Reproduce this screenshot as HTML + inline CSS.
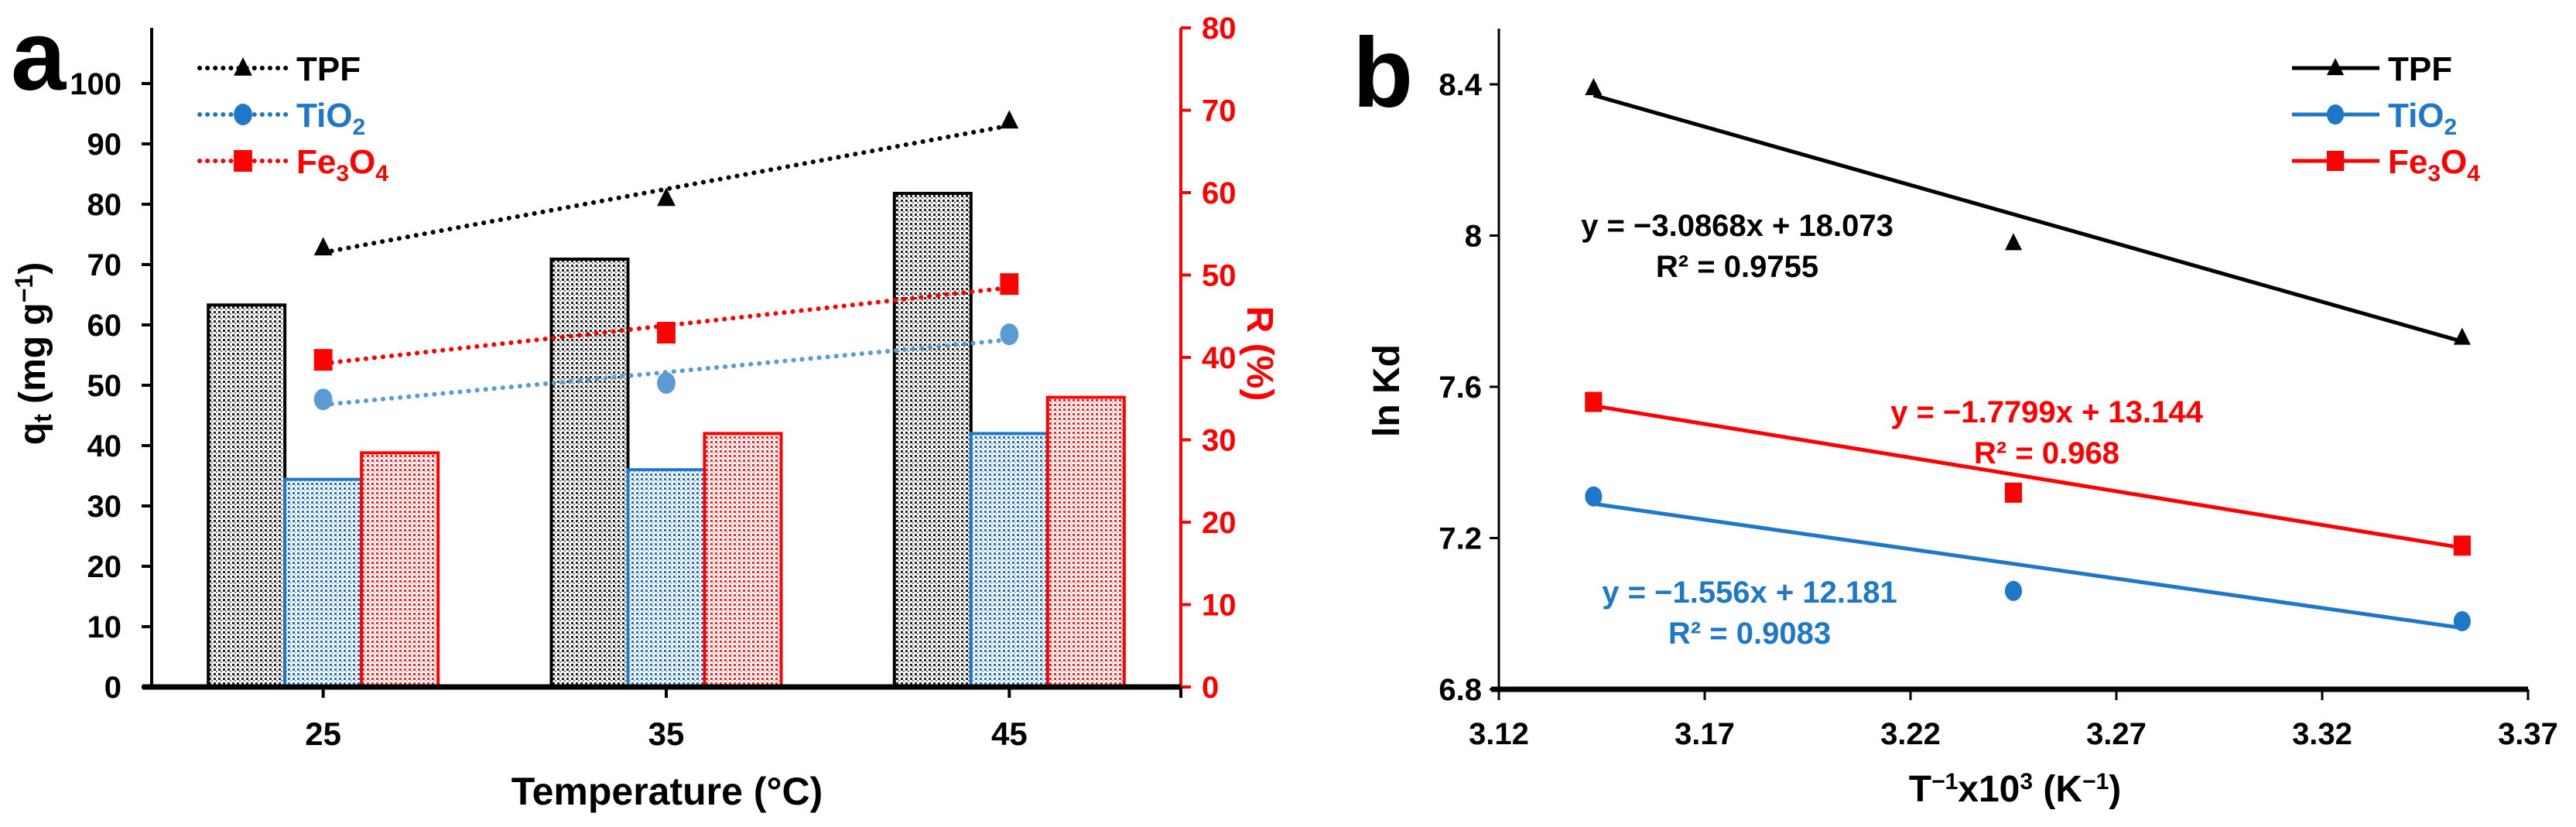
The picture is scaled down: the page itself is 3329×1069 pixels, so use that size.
<!DOCTYPE html>
<html><head><meta charset="utf-8"><style>
html,body{margin:0;padding:0;background:#fff;}
svg{display:block;font-family:"Liberation Sans",Arial,sans-serif;font-weight:bold;}
</style></head><body>
<svg id="chart" width="3329" height="1069" viewBox="0 0 3329 1069" xmlns="http://www.w3.org/2000/svg">
<defs>
<pattern id="pk" width="6" height="6" patternUnits="userSpaceOnUse"><rect width="6" height="6" fill="#fff"/><rect x="0" y="0" width="3" height="3" fill="#222"/><rect x="3" y="3" width="2" height="2" fill="#777"/></pattern>
<pattern id="pb" width="6" height="6" patternUnits="userSpaceOnUse"><rect width="6" height="6" fill="#fff"/><rect x="0" y="0" width="3" height="3" fill="#1f6fc4"/><rect x="3" y="3" width="2" height="2" fill="#8cb8e6"/></pattern>
<pattern id="pr" width="6" height="6" patternUnits="userSpaceOnUse"><rect width="6" height="6" fill="#fff"/><rect x="0" y="0" width="3" height="3" fill="#f22"/><rect x="3" y="3" width="2" height="2" fill="#f9a0a0"/></pattern>
</defs>
<g id="pa"></g>
<g id="pbp"></g>
</svg>
<script>
// ---------- Panel a data ----------
const temps = ["25","35","45"];
const barTPF = [63.3, 70.9, 81.8];
const barTiO2 = [34.4, 36.0, 42.0];
const barFe = [38.8, 42.0, 48.0];
const rTPF = [53.3, 59.3, 68.7];
const rTiO2 = [34.9, 36.9, 42.8];
const rFe = [39.7, 43.0, 48.9];
const leftTicks = [0,10,20,30,40,50,60,70,80,90,100];
const rightTicks = [0,10,20,30,40,50,60,70,80];
// ---------- Panel b data ----------
const invT = [3.143, 3.245, 3.354];
const lnTPF = [8.39, 7.98, 7.73];
const lnTiO2 = [7.31, 7.06, 6.98];
const lnFe = [7.56, 7.32, 7.18];
const slopes = [-3.0868, -1.556, -1.7799];
const intercepts = [18.073, 12.181, 13.144];
const bxTicks = [3.12, 3.17, 3.22, 3.27, 3.32, 3.37];
const byTicks = [6.8, 7.2, 7.6, 8.0, 8.4];

const NS="http://www.w3.org/2000/svg";
function mk(parent,tag,attrs,text){const e=document.createElementNS(NS,tag);for(const k in attrs)e.setAttribute(k,attrs[k]);if(text!==undefined)e.textContent=text;parent.appendChild(e);return e;}
const BLACK="#000",BLUE="#1f77c8",BLUEL="#5b9bd5",RED="#ff0000";

// ---- Panel a ----
const pa=document.getElementById('pa');
const ax0=196, ax1=1526, ay0=888, ayTop=36;
const yL=v=>ay0-v*7.8;
const yR=v=>ay0-v*(852/80);
const catW=(ax1-ax0)/temps.length;
const xC=i=>ax0+catW*(i+0.5);
const bw=99;
const barSets=[[barTPF,"url(#pk)",BLACK,"tpf"],[barTiO2,"url(#pb)",BLUE,"tio2"],[barFe,"url(#pr)",RED,"fe3o4"]];
barSets.forEach((s,k)=>{s[0].forEach((v,i)=>{const x=xC(i)-1.5*bw+k*bw;
 const r=mk(pa,'rect',{x:x,y:yL(v),width:bw,height:ay0-yL(v),fill:s[1],stroke:s[2],'stroke-width':4});
 
 });});
// axes
let e=mk(pa,'line',{x1:ax0,y1:ayTop,x2:ax0,y2:ay0,stroke:'#000','stroke-width':4});

e=mk(pa,'line',{x1:ax1,y1:ayTop,x2:ax1,y2:ay0,stroke:RED,'stroke-width':4});

e=mk(pa,'line',{x1:ax0-12,y1:ay0,x2:ax1,y2:ay0,stroke:'#000','stroke-width':7});

leftTicks.forEach(v=>{mk(pa,'line',{x1:ax0-13,y1:yL(v),x2:ax0,y2:yL(v),stroke:'#000','stroke-width':4});
 const t=mk(pa,'text',{x:157,y:yL(v)+14,'text-anchor':'end','font-size':40},String(v));
 });
rightTicks.forEach(v=>{mk(pa,'line',{x1:ax1,y1:yR(v),x2:ax1+13,y2:yR(v),stroke:RED,'stroke-width':4});
 const t=mk(pa,'text',{x:1553,y:yR(v)+14,'font-size':40,fill:RED},String(v));
 });
temps.forEach((c,i)=>{mk(pa,'line',{x1:xC(i),y1:ay0,x2:xC(i),y2:ay0+14,stroke:'#000','stroke-width':4});
 const t=mk(pa,'text',{x:xC(i),y:963,'text-anchor':'middle','font-size':42},c);
 });
mk(pa,'line',{x1:ax1,y1:ay0,x2:ax1,y2:ay0+14,stroke:'#000','stroke-width':4});
// trend lines + markers
function fit(xs,ys){const n=xs.length;let sx=0,sy=0,sxx=0,sxy=0;for(let i=0;i<n;i++){sx+=xs[i];sy+=ys[i];sxx+=xs[i]*xs[i];sxy+=xs[i]*ys[i];}const m=(n*sxy-sx*sy)/(n*sxx-sx*sx);return [m,(sy-m*sx)/n];}
function marker(g,type,x,y,col,size){let el;
 if(type==='tri')el=mk(g,'polygon',{points:`${x},${y-size} ${x-size*0.85},${y+size*0.7} ${x+size*0.85},${y+size*0.7}`,fill:col});
 else if(type==='circ')el=mk(g,'ellipse',{cx:x,cy:y,rx:size*0.85,ry:size,fill:col});
 else el=mk(g,'rect',{x:x-size*0.85,y:y-size,width:size*1.7,height:size*2,fill:col});
 return el;}
const rSets=[[rTPF,BLACK,'tri','tpf'],[rTiO2,BLUEL,'circ','tio2'],[rFe,RED,'sq','fe3o4']];
rSets.forEach(s=>{const xs=temps.map((c,i)=>i);const [m,b]=fit(xs,s[0]);
 const l=mk(pa,'line',{x1:xC(0),y1:yR(b),x2:xC(2),y2:yR(m*2+b),stroke:s[1],'stroke-width':6,'stroke-dasharray':'0.1 11','stroke-linecap':'round'});
 
 s[0].forEach((v,i)=>{const mm=marker(pa,s[2],xC(i),yR(v),s[1],14);
  });});
// legend a
const legA=[['TPF',BLACK,'tri'],['TiO',BLUE,'circ'],['Fe',RED,'sq']];
legA.forEach((L,i)=>{const y=88+i*60;
 mk(pa,'line',{x1:258,y1:y,x2:372,y2:y,stroke:L[1],'stroke-width':6,'stroke-dasharray':'0.1 10','stroke-linecap':'round'});
 marker(pa,L[2],314,y,L[1],14);
 const t=mk(pa,'text',{x:383,y:y+16,'font-size':44,fill:L[1]});
 
 if(i===0)t.textContent='TPF';
 else if(i===1){t.innerHTML='TiO<tspan font-size="30" dy="10">2</tspan>';}
 else{t.innerHTML='Fe<tspan font-size="30" dy="10">3</tspan><tspan dy="-10">O</tspan><tspan font-size="30" dy="10">4</tspan>';}});
let t=mk(pa,'text',{x:14,y:116,'font-size':128},'a');
t=mk(pa,'text',{x:0,y:0,'font-size':48,'text-anchor':'middle',transform:'translate(58,457) rotate(-90)'});
t.innerHTML='q<tspan font-size="32" dy="8">t</tspan><tspan dy="-8"> (mg g</tspan><tspan font-size="32" dy="-16">−1</tspan><tspan dy="16">)</tspan>';

t=mk(pa,'text',{x:0,y:0,'font-size':48,'text-anchor':'middle',fill:RED,transform:'translate(1612,457) rotate(90)'},'R (%)');

t=mk(pa,'text',{x:862,y:1040,'font-size':50,'text-anchor':'middle'},'Temperature (°C)');


// ---- Panel b ----
const pb=document.getElementById('pbp');
const bx0=1937,bx1=3267,by0=891,byTop=37;
const X=v=>bx0+(v-3.12)/0.25*(bx1-bx0);
const Y=v=>by0-(v-6.8)/0.4*195.5;
e=mk(pb,'line',{x1:bx0,y1:byTop,x2:bx0,y2:by0,stroke:'#000','stroke-width':3});

e=mk(pb,'line',{x1:bx0-10,y1:by0,x2:bx1,y2:by0,stroke:'#000','stroke-width':7});

byTicks.forEach(v=>{mk(pb,'line',{x1:bx0-12,y1:Y(v),x2:bx0,y2:Y(v),stroke:'#000','stroke-width':3});
 const s=(v===8)?'8':v.toFixed(1);
 const tt=mk(pb,'text',{x:1915,y:Y(v)+14,'text-anchor':'end','font-size':40},s);
 });
bxTicks.forEach(v=>{mk(pb,'line',{x1:X(v),y1:by0,x2:X(v),y2:by0+14,stroke:'#000','stroke-width':3});
 const tt=mk(pb,'text',{x:X(v),y:962,'text-anchor':'middle','font-size':40},v.toFixed(2));
 });
const bSets=[[lnTPF,BLACK,'tri','tpf',0],[lnTiO2,BLUE,'circ','tio2',1],[lnFe,RED,'sq','fe3o4',2]];
bSets.forEach(s=>{const m=slopes[s[4]],b=intercepts[s[4]];const xa=invT[0],xb=invT[invT.length-1];
 const l=mk(pb,'line',{x1:X(xa),y1:Y(m*xa+b),x2:X(xb),y2:Y(m*xb+b),stroke:s[1],'stroke-width':5});
 
 s[0].forEach((v,i)=>{const mm=marker(pb,s[2],X(invT[i]),Y(v),s[1],13);
  });});
const eqs=[['y = −3.0868x + 18.073','R² = 0.9755',2245,305,358,BLACK],['y = −1.7799x + 13.144','R² = 0.968',2645,546,599,RED],['y = −1.556x + 12.181','R² = 0.9083',2261,779,832,BLUE]];
eqs.forEach(q=>{let a=mk(pb,'text',{x:q[2],y:q[3],'text-anchor':'middle','font-size':40,fill:q[5]},q[0]);
 
 a=mk(pb,'text',{x:q[2],y:q[4],'text-anchor':'middle','font-size':40,fill:q[5]},q[1]);
 });
legA.forEach((L,i)=>{const y=88+i*60;
 mk(pb,'line',{x1:2962,y1:y,x2:3075,y2:y,stroke:L[1],'stroke-width':5});
 marker(pb,L[2],3018,y,L[1],13);
 const tt=mk(pb,'text',{x:3086,y:y+16,'font-size':44,fill:L[1]});
 
 if(i===0)tt.textContent='TPF';
 else if(i===1)tt.innerHTML='TiO<tspan font-size="30" dy="10">2</tspan>';
 else tt.innerHTML='Fe<tspan font-size="30" dy="10">3</tspan><tspan dy="-10">O</tspan><tspan font-size="30" dy="10">4</tspan>';});
t=mk(pb,'text',{x:1748,y:138,'font-size':128},'b');
t=mk(pb,'text',{x:0,y:0,'font-size':48,'text-anchor':'middle',transform:'translate(1808,505) rotate(-90)'},'ln Kd');

t=mk(pb,'text',{x:2604,y:1036,'font-size':48,'text-anchor':'middle'});
t.innerHTML='T<tspan font-size="30" dy="-16">−1</tspan><tspan dy="16">x10</tspan><tspan font-size="30" dy="-16">3</tspan><tspan dy="16"> (K</tspan><tspan font-size="30" dy="-16">−1</tspan><tspan dy="16">)</tspan>';

</script>
</body></html>
